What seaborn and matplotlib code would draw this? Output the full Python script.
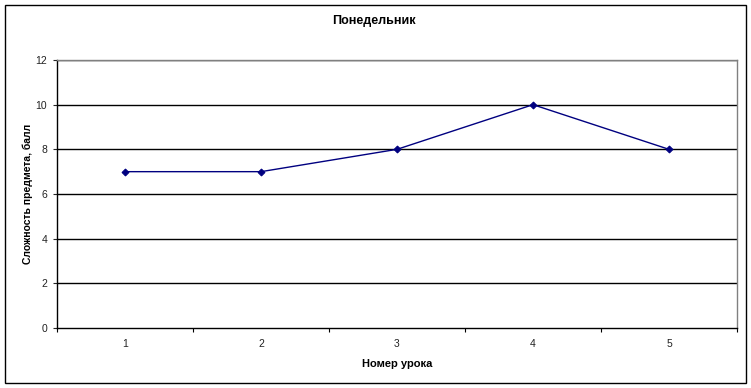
import matplotlib
matplotlib.use("Agg")
import matplotlib.pyplot as plt
import matplotlib.patches as mpatches
from matplotlib.ticker import FixedLocator, NullFormatter
import seaborn as sns
import pandas as pd

lessons = [1, 2, 3, 4, 5]
difficulty = [7, 7, 8, 10, 8]
y_ticks = [0, 2, 4, 6, 8, 10, 12]
title = "Понедельник"
x_label = "Номер урока"
y_label = "Сложность предмета, балл"

sns.set_style("white")
plt.rcParams['font.family'] = ['Liberation Sans', 'DejaVu Sans']

df = pd.DataFrame({"lesson": lessons, "difficulty": difficulty})

fig = plt.figure(figsize=(7.51, 3.88), dpi=100)
ax = fig.add_axes([57/751, 60/388, 680/751, 268/388])

sns.lineplot(data=df, x="lesson", y="difficulty", ax=ax, color="#000080",
             marker="D", markersize=3.5, markeredgecolor="#000080", linewidth=1)

ax.set_xlim(0.5, 5.5)
ax.set_ylim(0, 12)
ax.set_yticks(y_ticks)
ax.set_yticklabels([str(v) for v in y_ticks], fontsize=7.5, color="#222222")
ax.set_xticks(lessons)
ax.set_xticklabels([str(v) for v in lessons], fontsize=7.5, color="#222222")
ax.tick_params(axis="x", which="major", length=0, pad=8)
ax.xaxis.set_minor_locator(FixedLocator([0.5, 1.5, 2.5, 3.5, 4.5, 5.5]))
ax.xaxis.set_minor_formatter(NullFormatter())
ax.tick_params(axis="x", which="minor", length=3, direction="out", width=0.8, color="black", bottom=True)
ax.tick_params(axis="y", length=3, direction="out", width=0.8, left=True, pad=4)

for v in y_ticks[1:]:
    ax.axhline(v, color="black", linewidth=1, zorder=0)

for side in ["top", "right"]:
    ax.spines[side].set_color("#808080")
    ax.spines[side].set_linewidth(1)
for side in ["left", "bottom"]:
    ax.spines[side].set_color("black")
    ax.spines[side].set_linewidth(1)

ax.set_xlabel(x_label, fontsize=8, fontweight="bold", labelpad=7, color="black")
ax.set_ylabel(y_label, fontsize=7.5, fontweight="bold", labelpad=2, color="black")
fig.text(374/751, 1 - 21/388, title, ha="center", va="center", fontsize=9,
         fontweight="bold", color="black")

rect = mpatches.Rectangle((5/751, 5/388), 741/751, 378/388, transform=fig.transFigure,
                          fill=False, edgecolor="black", linewidth=1)
fig.patches.append(rect)

fig.savefig("out.png", dpi=100)
